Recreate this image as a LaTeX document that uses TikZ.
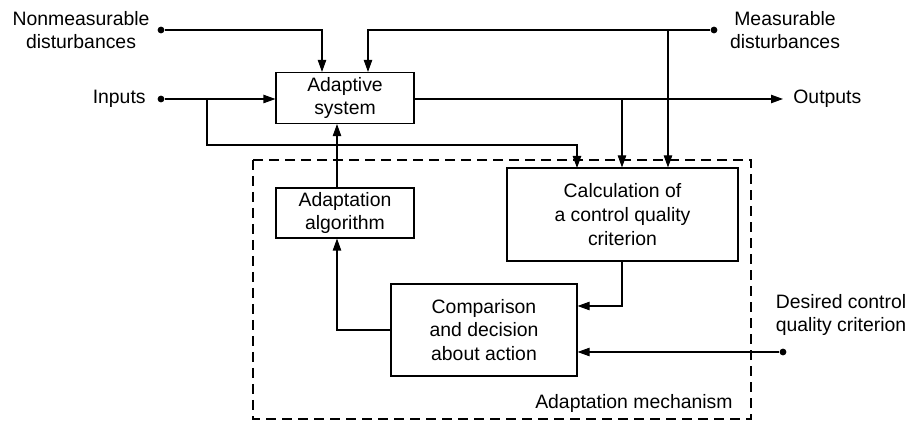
\documentclass[tikz,border=0pt]{standalone}
\usepackage{fontspec}
\setmainfont{Liberation Sans}
\usetikzlibrary{calc, positioning, arrows.meta}

\tikzset{
    block/.style={draw, line width=0.55pt, align=center, inner sep=0pt},
    sig/.style={line width=0.55pt},
    arr/.style={sig, -{Triangle[length=6pt, width=4.2pt]}},
    dot/.style={circle, fill, inner sep=0pt, minimum size=3.4pt},
    lbl/.style={align=center, inner sep=0pt},
}

\begin{document}
\begin{tikzpicture}[x=0.5pt, y=-0.5pt, font=\fontsize{9.7}{11.8}\selectfont]

    \useasboundingbox (0,0) rectangle (912,421);

    % ==========================================
    % BLOCKS
    % ==========================================

    \node[block, minimum width=69pt, minimum height=25.5pt] (adapt) at (345,98) {Adaptive\\system};
    \node[block, minimum width=69pt, minimum height=25pt] (algo) at (345,213) {Adaptation\\algorithm};
    \node[block, minimum width=115.5pt, minimum height=46.5pt] (calc) at (622.5,214.5) {Calculation of\\a control quality\\criterion};
    \node[block, minimum width=93pt, minimum height=46pt] (comp) at (484,330) {Comparison\\and decision\\about action};

    % Dashed frame of the adaptation mechanism
    \draw[sig, dash pattern=on 5pt off 3pt] (253,160) rectangle (751,419);
    \node[lbl, anchor=east] (mechlbl) at (733,403) {Adaptation mechanism};

    % ==========================================
    % TERMINALS
    % ==========================================

    \node[dot] (nmdot) at (161,30) {};
    \node[dot] (indot) at (161,99) {};
    \node[dot] (msdot) at (714,30) {};
    \node[dot] (desdot) at (783,352) {};

    \node[lbl] (nmlbl) at (81,30) {Nonmeasurable\\disturbances};
    \node[lbl, left=7.5pt of indot.center] (inlbl) {Inputs};
    \node[lbl] (mslbl) at (785,30) {Measurable\\disturbances};
    \node[lbl] (deslbl) at (841,315) {Desired control\\quality criterion};

    \coordinate (outend) at (783,99);
    \node[lbl, anchor=west, right=5pt of outend] (outlbl) {Outputs};

    % Branch points
    \coordinate (inbr) at (207,99);
    \coordinate (outbr) at (622,99);
    \coordinate (msbr) at (668,30);
    \coordinate (fbk) at (337,0);

    % ==========================================
    % CONNECTIONS
    % ==========================================

    \draw[arr] (nmdot) -| ($(adapt.north)+(-23,0)$);
    \draw[arr] (msdot) -| ($(adapt.north)+(23,0)$);
    \draw[arr] (indot) -- (adapt.west |- indot);
    \draw[arr] (adapt.east |- outend) -- (outend);

    \draw[arr] (inbr) |- (207,145) -| (577,168);
    \draw[arr] (outbr) -- (calc.north -| outbr);
    \draw[arr] (msbr) -- (calc.north -| msbr);

    \draw[arr] (algo.north -| fbk) -- (adapt.south -| fbk);
    \draw[arr] (calc.south -| outbr) |- ($(comp.east)+(0,-24)$);
    \draw[arr] (comp.west) -| (algo.south -| fbk);
    \draw[arr] (desdot) -- (comp.east |- desdot);

\end{tikzpicture}
\end{document}
